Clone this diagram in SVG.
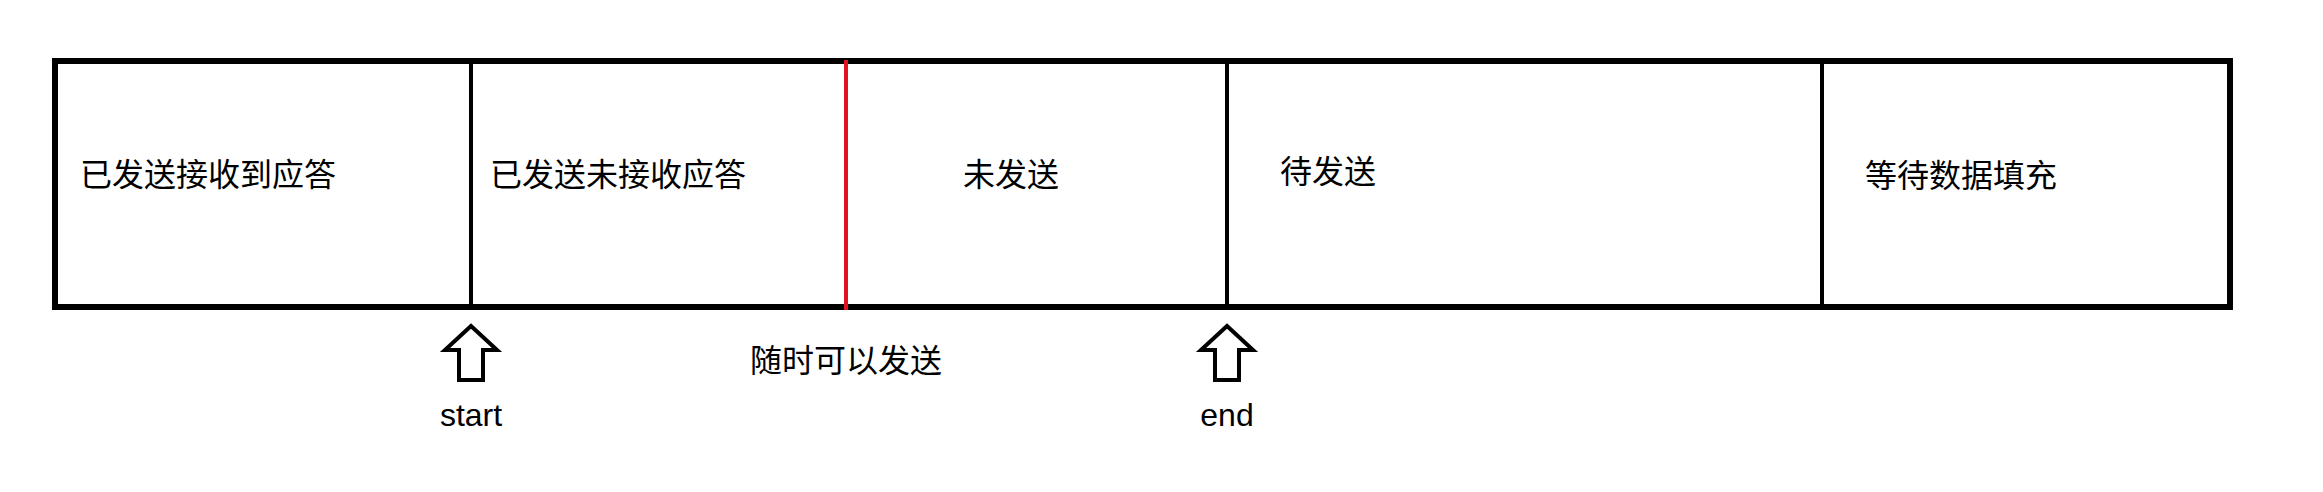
<svg xmlns="http://www.w3.org/2000/svg" width="2323" height="492" viewBox="0 0 2323 492">
<style>
.t{font-family:"Liberation Sans","Noto Sans CJK SC",sans-serif;font-size:32px;fill:#000}
.d{stroke:#000;stroke-width:4}
.a{fill:#fff;stroke:#000;stroke-width:4;stroke-linejoin:miter}
</style>
<rect width="2323" height="492" fill="#fff"/>
<g id="buffer">
<rect x="55" y="61" width="2175" height="246" fill="#fff" stroke="#000" stroke-width="6"/>
</g>
<g id="connectors">
<line class="d" x1="471" y1="58" x2="471" y2="310"/>
<line x1="846" y1="60" x2="846" y2="310" stroke="#e0141e" stroke-width="4"/>
<line class="d" x1="1227" y1="60" x2="1227" y2="310"/>
<line class="d" x1="1822" y1="60" x2="1822" y2="307"/>
</g>
<g id="n1"><text class="t" x="80" y="186">已发送接收到应答</text></g>
<g id="n2"><text class="t" x="490" y="186">已发送未接收应答</text></g>
<g id="n3"><text class="t" x="963" y="186">未发送</text></g>
<g id="n4"><text class="t" x="1280" y="183">待发送</text></g>
<g id="n5"><text class="t" x="1865" y="187">等待数据填充</text></g>
<g id="start">
<polygon class="a" points="471,326 497,350 483,350 483,380 459,380 459,350 445,350"/>
<text class="t" x="471" y="426" text-anchor="middle" font-size="30">start</text>
</g>
<g id="end">
<polygon class="a" points="1227,326 1253,350 1239,350 1239,380 1215,380 1215,350 1201,350"/>
<text class="t" x="1227" y="426" text-anchor="middle" font-size="30">end</text>
</g>
<g id="note"><text class="t" x="750" y="372">随时可以发送</text></g>
</svg>
